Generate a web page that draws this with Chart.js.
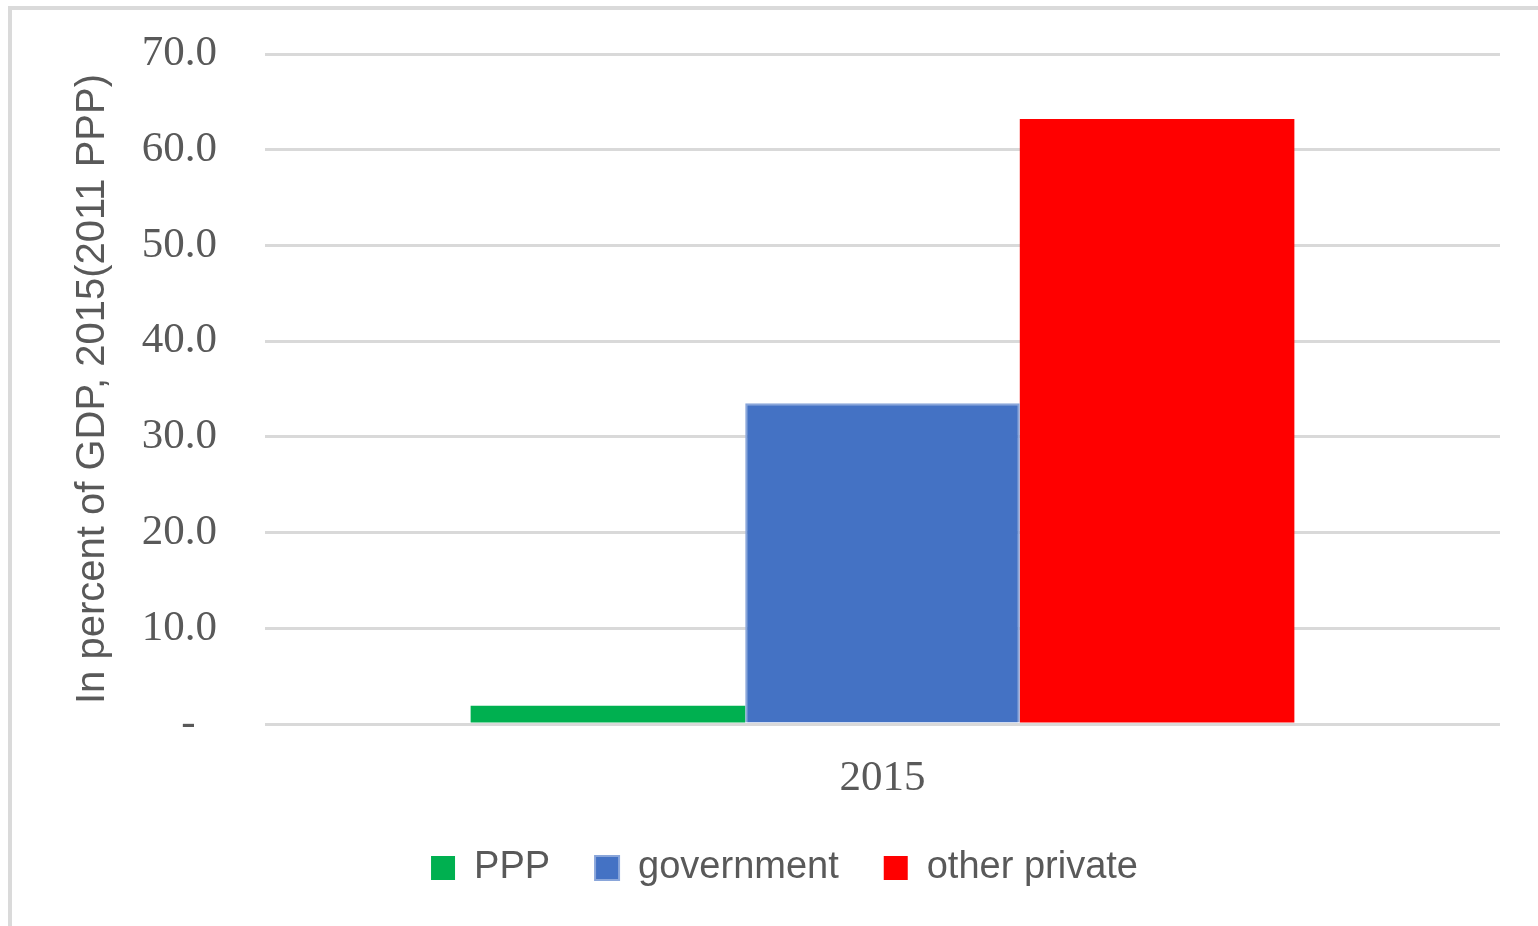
<!DOCTYPE html>
<html>
<head>
<meta charset="utf-8">
<script src="https://cdn.jsdelivr.net/npm/chart.js@4/dist/chart.umd.min.js"></script>
<style>
  html, body { margin: 0; padding: 0; background: #fff; }
  #frame {
    position: absolute; left: 8px; top: 6px; right: -10px; bottom: -10px;
    border-left: 4px solid #dadada; border-top: 4px solid #dadada;
  }
  #chart { position: absolute; left: 0; top: 0; }
</style>
</head>
<body>
<div id="frame"></div>
<canvas id="chart" width="1538" height="926"></canvas>
<script>
// ==========================
// DATA
// ==========================
const categories = ["2015"];
const seriesNames = ["PPP", "government", "other private"];
const pppValues = [1.9];
const governmentValues = [33.5];
const otherPrivateValues = [63.2];

const GREEN = "#00b050";
const BLUE = "#4472c4";
const RED = "#ff0000";
const TEXT_GREY = "#595959";
const GRID_GREY = "#d9d9d9";

// ==========================
// CHART
// ==========================
const datasets = [
  { label: seriesNames[0], data: pppValues, backgroundColor: GREEN, borderWidth: 0 },
  { label: seriesNames[1], data: governmentValues, backgroundColor: BLUE, borderColor: "#8aa6da", borderWidth: 2 },
  { label: seriesNames[2], data: otherPrivateValues, backgroundColor: RED, borderWidth: 0 },
];

new Chart(document.getElementById("chart"), {
  type: "bar",
  data: { labels: categories, datasets: datasets },
  options: {
    responsive: false,
    animation: false,
    devicePixelRatio: 1,
    categoryPercentage: 0.667,
    barPercentage: 1,
    layout: { autoPadding: false, padding: { left: 69, right: 38, top: 54, bottom: 29 } },
    plugins: {
      tooltip: { enabled: false },
      legend: {
        position: "bottom",
        labels: {
          color: TEXT_GREY,
          font: { family: "'Liberation Sans', Arial, sans-serif", size: 38 },
          boxWidth: 24,
          boxHeight: 24,
          padding: 45,
        },
      },
    },
    scales: {
      x: {
        // fixed height so the legend sits at the right distance below the axis
        afterFit: (scale) => { scale.height = 80; },
        grid: { display: false },
        border: { display: false },
        ticks: {
          color: TEXT_GREY,
          padding: 21,
          font: { family: "'Liberation Serif', 'Times New Roman', serif", size: 43 },
        },
      },
      y: {
        min: 0,
        max: 70,
        afterFit: (scale) => {
          scale.width = 265 - 69;
          // tick padding is only meant horizontally
          scale.paddingTop = 0;
          scale.paddingBottom = 0;
        },
        grid: { color: GRID_GREY, lineWidth: 3, drawTicks: false },
        border: { display: false },
        ticks: {
          stepSize: 10,
          padding: 48,
          color: TEXT_GREY,
          font: { family: "'Liberation Serif', 'Times New Roman', serif", size: 43 },
          callback: (value) => (value === 0 ? "-  " : value.toFixed(1)),
        },
        title: {
          display: true,
          text: "In percent of GDP, 2015(2011 PPP)",
          color: TEXT_GREY,
          padding: 0,
          font: { family: "'Liberation Sans', Arial, sans-serif", size: 40 },
        },
      },
    },
  },
});
</script>
</body>
</html>
